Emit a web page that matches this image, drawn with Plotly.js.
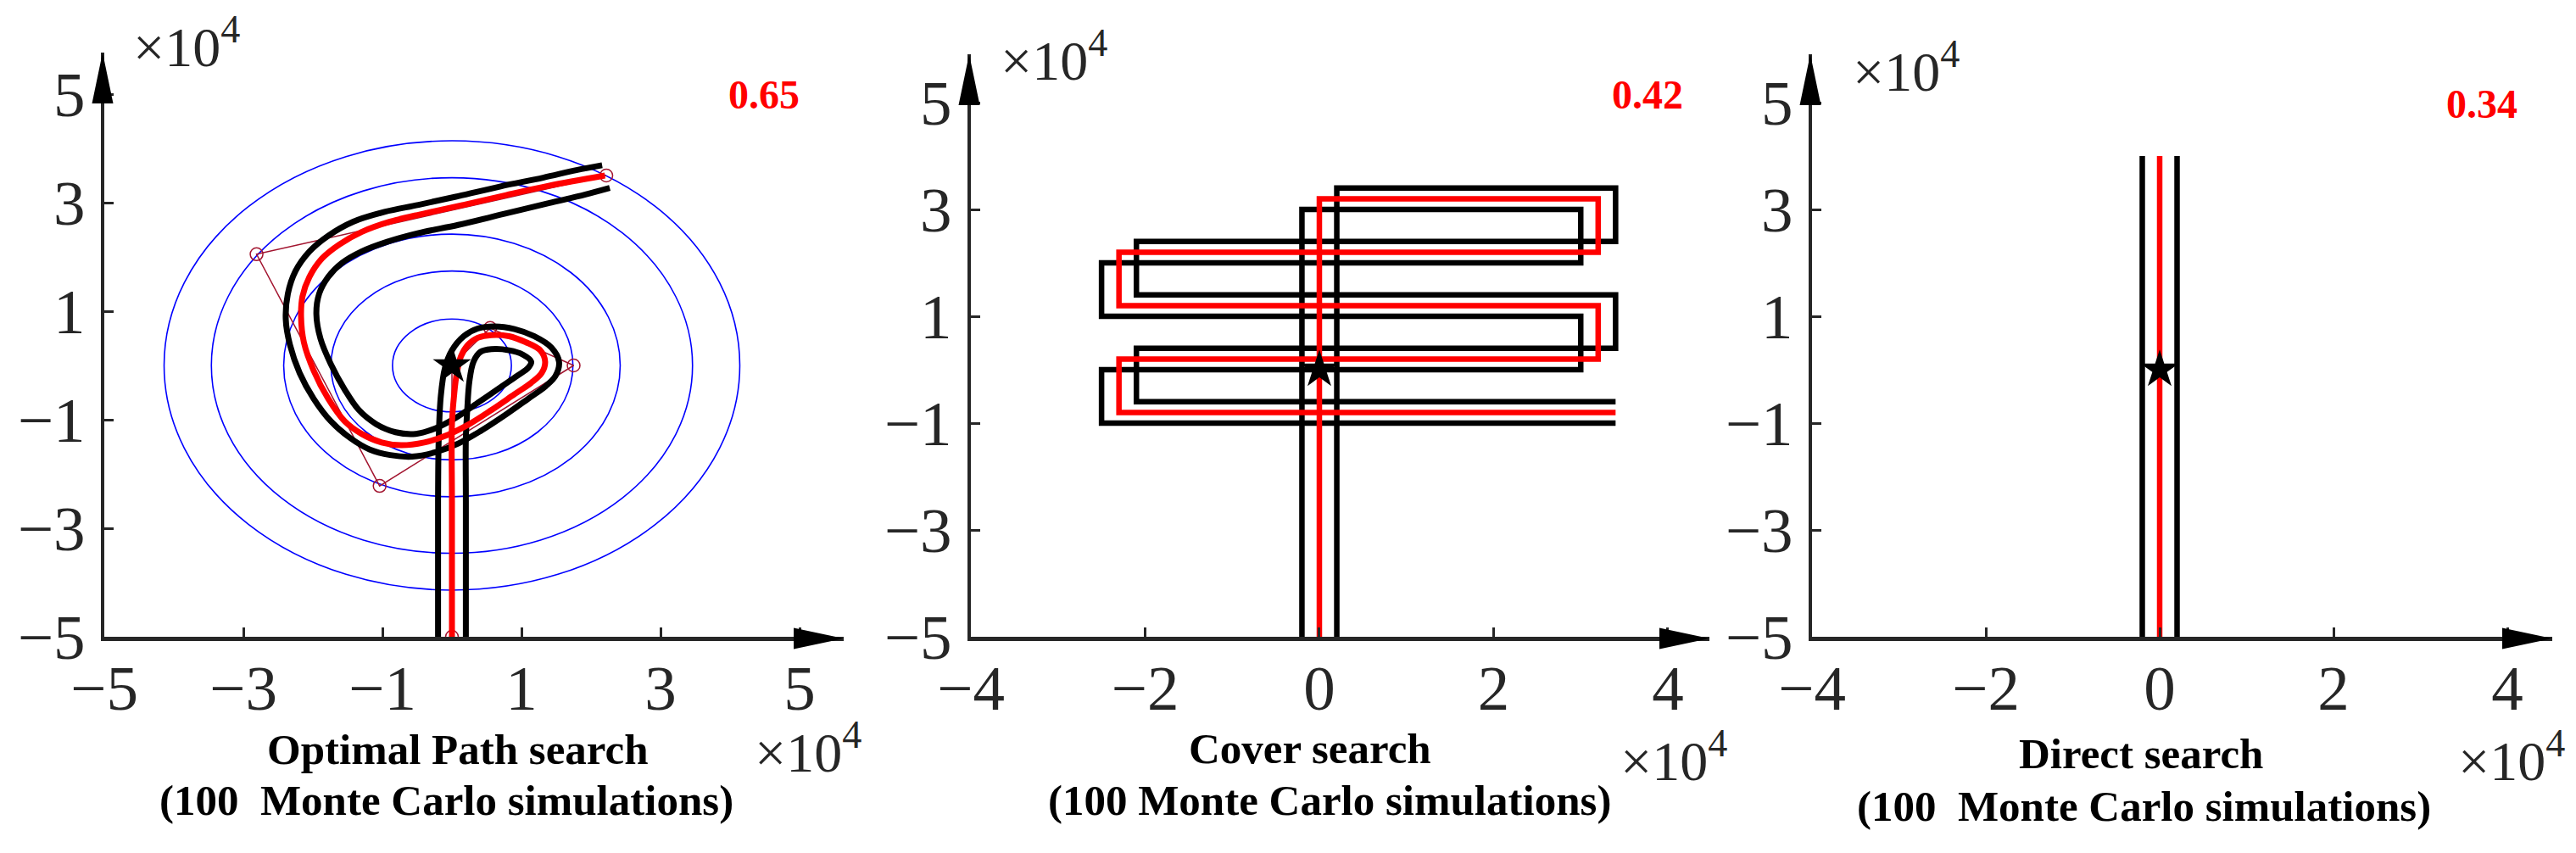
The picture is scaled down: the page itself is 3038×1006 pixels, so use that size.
<!DOCTYPE html>
<html>
<head>
<meta charset="utf-8">
<script src="https://cdn.plot.ly/plotly-3.0.1.min.js"></script>
<style>html,body{margin:0;padding:0;background:#fff}</style>
</head>
<body>
<div id="plot" style="width:3038px;height:1006px"></div>
<script>
// ---- data (units of 1e4) ----
// panel 1: optimal path search
var pathX = [0, 0, 0.00, 0.03, 0.07, 0.13, 0.23, 0.37, 0.57, 0.82, 1.06, 1.27, 1.34, 1.29, 1.14, 0.90, 0.57, 0.25, -0.08, -0.40, -0.73, -1.01, -1.30, -1.54, -1.78, -1.99, -2.13, -2.17, -2.15, -2.05, -1.87, -1.62, -1.30, -0.89, -0.40, 0.17, 0.78, 1.39, 2.20];
var pathY = [-5, -2.5, -1.08, -0.56, -0.14, 0.17, 0.38, 0.51, 0.56, 0.54, 0.43, 0.28, 0.07, -0.14, -0.32, -0.53, -0.82, -1.08, -1.29, -1.42, -1.47, -1.42, -1.26, -1.03, -0.61, -0.09, 0.43, 0.90, 1.27, 1.63, 1.97, 2.23, 2.46, 2.65, 2.80, 2.96, 3.14, 3.31, 3.50];
var outerX = [-0.2, -0.2, -0.19, -0.16, -0.10, 0.00, 0.17, 0.37, 0.61, 0.90, 1.18, 1.43, 1.54, 1.49, 1.35, 1.10, 0.78, 0.41, 0.09, -0.24, -0.57, -0.89, -1.18, -1.46, -1.74, -1.99, -2.19, -2.33, -2.39, -2.36, -2.25, -2.05, -1.78, -1.42, -0.97, -0.48, 0.09, 0.70, 1.31, 1.79, 2.16];
var outerY = [-5, -2.5, -1.34, -0.56, -0.04, 0.28, 0.54, 0.68, 0.72, 0.67, 0.54, 0.33, 0.07, -0.19, -0.38, -0.61, -0.90, -1.21, -1.44, -1.60, -1.68, -1.65, -1.55, -1.34, -1.03, -0.61, -0.14, 0.38, 0.85, 1.32, 1.74, 2.10, 2.39, 2.65, 2.83, 2.96, 3.12, 3.30, 3.46, 3.60, 3.69];
var innerX = [0.2, 0.2, 0.20, 0.22, 0.25, 0.31, 0.41, 0.57, 0.82, 1.02, 1.14, 1.10, 0.94, 0.70, 0.37, 0.05, -0.24, -0.52, -0.81, -1.09, -1.34, -1.54, -1.74, -1.89, -1.95, -1.91, -1.78, -1.58, -1.30, -0.93, -0.48, 0.09, 0.74, 1.39, 1.92, 2.27];
var innerY = [-5, -2.5, -1.34, -0.82, -0.30, 0.07, 0.25, 0.30, 0.28, 0.20, 0.07, -0.04, -0.19, -0.40, -0.69, -0.97, -1.16, -1.26, -1.23, -1.08, -0.82, -0.45, 0.02, 0.49, 0.95, 1.32, 1.63, 1.89, 2.10, 2.28, 2.44, 2.59, 2.79, 2.99, 3.15, 3.27];
var ctrlX = [0, 0, 0.55, 1.75, -1.04, -2.81, 2.22];
var ctrlY = [-5, 0, 0.69, 0, -2.22, 2.05, 3.50];
var ringRadii = [0.855, 1.74, 2.42, 3.46, 4.14];

// panel 2: cover search
var coverX = [0, 0, 3.2, 3.2, -2.3, -2.3, 3.2, 3.2, -2.3, -2.3, 3.4];
var coverY = [-5, 3.2, 3.2, 2.2, 2.2, 1.2, 1.2, 0.2, 0.2, -0.8, -0.8];
var coverAX = [0.2, 0.2, 3.4, 3.4, -2.1, -2.1, 3.4, 3.4, -2.1, -2.1, 3.4];
var coverAY = [-5, 3.4, 3.4, 2.4, 2.4, 1.4, 1.4, 0.4, 0.4, -0.6, -0.6];
var coverBX = [-0.2, -0.2, 3.0, 3.0, -2.5, -2.5, 3.0, 3.0, -2.5, -2.5, 3.4];
var coverBY = [-5, 3.0, 3.0, 2.0, 2.0, 1.0, 1.0, 0.0, 0.0, -1.0, -1.0];

// panel 3: direct search
var directX = [0, 0];
var directAX = [0.2, 0.2];
var directBX = [-0.2, -0.2];
var directY = [-5, 4.0];

var targetX = [0], targetY = [0];
var scores = ['0.65', '0.42', '0.34'];
var titles = ['Optimal Path search', 'Cover search', 'Direct search'];
var subtitles = ['(100 \u00a0Monte Carlo simulations)', '(100 Monte Carlo simulations)', '(100 \u00a0Monte Carlo simulations)'];
var ticks1 = [-5, -3, -1, 1, 3, 5];
var ticks2 = [-4, -2, 0, 2, 4];
var yTicks = [-5, -3, -1, 1, 3, 5];

// ---- layout helpers ----
var W = 3038, H = 1006;
function px(x) { return x / W; }
function py(y) { return 1 - y / H; }

var AX = '#262626';
var serif = 'Liberation Serif, Times New Roman, serif';

// pixel frames of the three axes boxes
var frames = [
  {l: 123, r: 995, b: 751, t: 62, xr: [-5, 5.634], yr: [-5, 5.766], xt: ticks1},
  {l: 1145, r: 2016, b: 751, t: 64, xr: [-4, 4.477], yr: [-5, 5.905], xt: ticks2},
  {l: 2137, r: 3010, b: 751, t: 64, xr: [-4, 4.517], yr: [-5, 5.905], xt: ticks2}
];

function axis(domain, range, vals, standoff) {
  return {
    domain: domain, range: range, tickvals: vals,
    showline: true, linecolor: AX, linewidth: 4.5,
    ticks: 'inside', ticklen: 11, tickwidth: 3, tickcolor: AX,
    showgrid: false, zeroline: false, fixedrange: true,
    ticklabelstandoff: standoff,
    tickfont: {family: serif, size: 75, color: AX}
  };
}

var layout = {
  width: W, height: H,
  margin: {l: 0, r: 0, t: 0, b: 0, pad: 0},
  paper_bgcolor: '#fff', plot_bgcolor: 'rgba(0,0,0,0)',
  showlegend: false,
  shapes: [], annotations: []
};

frames.forEach(function (f, i) {
  var s = i === 0 ? '' : String(i + 1);
  var xa = axis([px(f.l), px(f.r)], f.xr, f.xt, -9);
  xa.anchor = 'y' + s;
  var ya = axis([py(f.b), py(f.t)], f.yr, yTicks, 3);
  ya.anchor = 'x' + s;
  layout['xaxis' + s] = xa;
  layout['yaxis' + s] = ya;

  // arrow heads on the axis ends
  layout.shapes.push({
    type: 'path', xref: 'x' + s, yref: 'paper',
    xsizemode: 'pixel', ysizemode: 'pixel',
    xanchor: f.xr[1], yanchor: py(f.b + 2),
    path: 'M0,0 L-59,12.5 L-59,-12.5 Z',
    fillcolor: '#000', line: {width: 0}
  });
  layout.shapes.push({
    type: 'path', xref: 'paper', yref: 'y' + s,
    xsizemode: 'pixel', ysizemode: 'pixel',
    xanchor: px(f.l - 2), yanchor: f.yr[1],
    path: 'M0,0 L-12.5,-60 L12.5,-60 Z',
    fillcolor: '#000', line: {width: 0}
  });
});

// blue rings in panel 1
ringRadii.forEach(function (r) {
  layout.shapes.push({
    type: 'circle', xref: 'x', yref: 'y', layer: 'below',
    x0: -r, x1: r, y0: -r, y1: r,
    line: {color: '#0000ff', width: 1.6}
  });
});

function note(x, y, text, size, color, xanchor, yanchor) {
  layout.annotations.push({
    xref: 'paper', yref: 'paper', x: px(x), y: py(y),
    xanchor: xanchor, yanchor: yanchor, showarrow: false,
    text: text, font: {family: serif, size: size, color: color}
  });
}

// titles under each panel
var tPos = [[540, 914, 526, 974], [1545, 913, 1568, 974], [2525, 919, 2528, 981]];
tPos.forEach(function (p, i) {
  note(p[0], p[1], '<b>' + titles[i] + '</b>', 51, '#000', 'center', 'bottom');
  note(p[2], p[3], '<b>' + subtitles[i] + '</b>', 51, '#000', 'center', 'bottom');
});

// scores
var sPos = [[901, 112], [1943, 112], [2927, 122]];
sPos.forEach(function (p, i) {
  note(p[0], p[1], '<b>' + scores[i] + '</b>', 48, '#ff0000', 'center', 'middle');
});

// x10^4 exponent labels
var ePos = [[155, 94], [1178, 110], [2183, 123], [888, 926], [1909, 936], [2897, 936]];
ePos.forEach(function (p) {
  note(p[0], p[1], '\u00d710<sup>4</sup>', 66, AX, 'left', 'bottom');
});

// ---- traces ----
function line(x, y, color, width, xa, ya, shape) {
  return {x: x, y: y, xaxis: xa, yaxis: ya, type: 'scatter', mode: 'lines',
    line: {color: color, width: width, shape: shape || 'linear', smoothing: 1},
    hoverinfo: 'skip'};
}
function star(xa, ya) {
  return {x: targetX, y: targetY, xaxis: xa, yaxis: ya, type: 'scatter', mode: 'markers',
    marker: {symbol: 'star', size: 34, color: '#000'}, hoverinfo: 'skip'};
}

var data = [
  {x: ctrlX, y: ctrlY, xaxis: 'x', yaxis: 'y', type: 'scatter', mode: 'lines+markers',
    line: {color: '#a2142f', width: 1.5},
    marker: {symbol: 'circle-open', size: 15, color: '#a2142f', line: {width: 1.5}}, hoverinfo: 'skip'},
  line(outerX, outerY, '#000', 7, 'x', 'y', 'spline'),
  line(innerX, innerY, '#000', 7, 'x', 'y', 'spline'),
  line(pathX, pathY, '#ff0000', 7, 'x', 'y', 'spline'),
  star('x', 'y'),

  line(coverAX, coverAY, '#000', 6.5, 'x2', 'y2'),
  line(coverBX, coverBY, '#000', 6.5, 'x2', 'y2'),
  line(coverX, coverY, '#ff0000', 6.5, 'x2', 'y2'),
  star('x2', 'y2'),

  line(directAX, directY, '#000', 6.5, 'x3', 'y3'),
  line(directBX, directY, '#000', 6.5, 'x3', 'y3'),
  line(directX, directY, '#ff0000', 6.5, 'x3', 'y3'),
  star('x3', 'y3')
];

Plotly.newPlot('plot', data, layout, {displayModeBar: false, staticPlot: true});
</script>
</body>
</html>
